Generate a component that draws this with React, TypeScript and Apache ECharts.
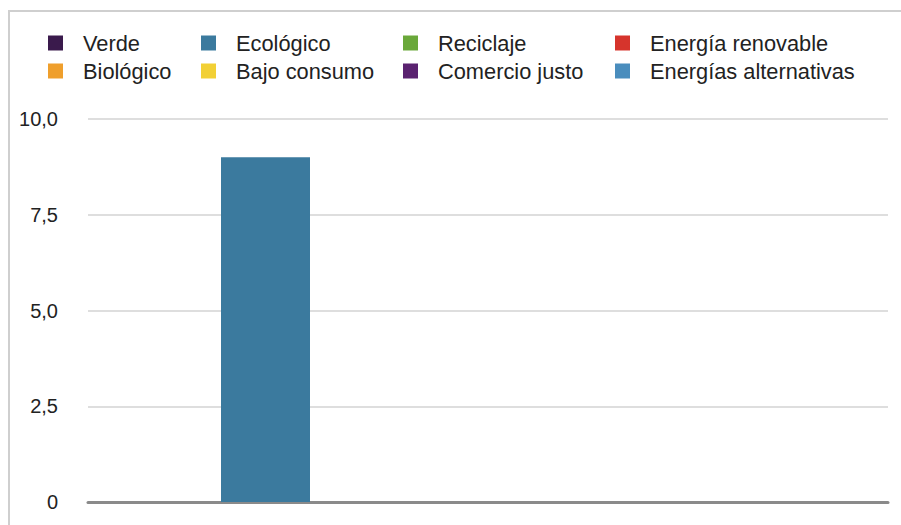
import React, { useEffect, useRef } from "react";
import * as echarts from "echarts";

const categories = [""];
const seriesNames = [
  "Verde",
  "Ecológico",
  "Reciclaje",
  "Energía renovable",
  "Biológico",
  "Bajo consumo",
  "Comercio justo",
  "Energías alternativas",
];
const seriesValues = [[0], [9], [0], [0], [0], [0], [0], [0]];
const seriesColors = [
  "#3a1a4c",
  "#3b7a9e",
  "#6aa83a",
  "#d6342c",
  "#ef9f2c",
  "#f2d035",
  "#5a2270",
  "#4a8dbd",
];
const yMin = 0;
const yMax = 10;
const yInterval = 2.5;
const legendColumns = [
  [0, 4],
  [1, 5],
  [2, 6],
  [3, 7],
];
const legendLefts = [48, 201, 403, 615];

const FONT = "'Liberation Sans', Arial, Helvetica, sans-serif";

export default function App() {
  const ref = useRef<HTMLDivElement>(null);
  useEffect(() => {
    if (!ref.current) return;
    const chart = echarts.init(ref.current, null, { renderer: "svg" });
    const legends = legendColumns.map((col, i) => ({
      orient: "vertical",
      left: legendLefts[i],
      top: 32,
      padding: 0,
      itemWidth: 15,
      itemHeight: 15,
      itemGap: 6,
      icon: "rect",
      selectedMode: false,
      data: col.map((k) => seriesNames[k]),
      textStyle: {
        fontFamily: FONT,
        fontSize: 21.8,
        color: "#222222",
        lineHeight: 21,
        padding: [0, 0, 0, 15],
      },
    }));
    chart.setOption({
      animation: false,
      backgroundColor: "#ffffff",
      color: seriesColors,
      legend: legends,
      graphic: [
        {
          type: "rect",
          silent: true,
          shape: { x: 9, y: 11, width: 2000, height: 2000 },
          style: { fill: "none", stroke: "#cfcfcf", lineWidth: 2 },
        },
      ],
      grid: { left: 88, right: 13, top: 119, bottom: 23, containLabel: false },
      xAxis: {
        type: "category",
        data: categories,
        axisLine: { show: true, lineStyle: { color: "#8a8a8a", width: 3 } },
        axisTick: { show: false },
        axisLabel: { show: false },
        splitLine: { show: false },
      },
      yAxis: {
        type: "value",
        min: yMin,
        max: yMax,
        interval: yInterval,
        axisLine: { show: false },
        axisTick: { show: false },
        splitLine: { show: true, lineStyle: { color: "#dedede", width: 2 } },
        axisLabel: {
          margin: 30,
          fontFamily: FONT,
          fontSize: 20,
          color: "#222222",
          formatter: (v: number) => (v === 0 ? "0" : v.toFixed(1).replace(".", ",")),
        },
      },
      series: seriesNames.map((name, i) => ({
        type: "bar",
        name,
        data: seriesValues[i],
        barGap: "0%",
        barCategoryGap: "11%",
        itemStyle: { color: seriesColors[i] },
      })),
    });
    return () => chart.dispose();
  }, []);
  return (
    <div
      ref={ref}
      style={{ position: "absolute", left: 0, top: 0, width: 901, height: 525 }}
    />
  );
}
